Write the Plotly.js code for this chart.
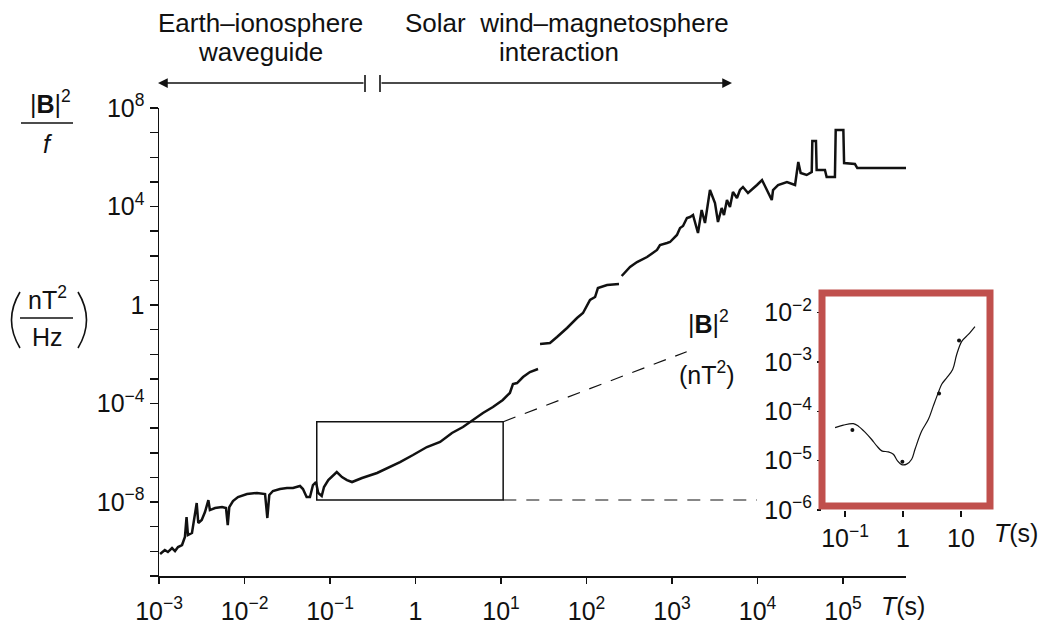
<!DOCTYPE html>
<html>
<head>
<meta charset="utf-8">
<script src="https://cdn.plot.ly/plotly-3.0.1.min.js"></script>
<style>html,body{margin:0;padding:0;background:#fff;}#chart{width:1040px;height:627px;}</style>
</head>
<body>
<div id="chart"></div>
<script>
// ---------- data ----------
// Main spectrum |B|^2/f (nT^2/Hz) vs period T (s), three drawn segments
const periodA = [1.03e-3,1.17e-3,1.27e-3,1.42e-3,1.54e-3,1.67e-3,1.86e-3,2.01e-3,2.10e-3,2.18e-3,2.43e-3,2.64e-3,2.76e-3,2.88e-3,3.16e-3,3.45e-3,3.78e-3,3.94e-3,4.52e-3,5.46e-3,6.08e-3,6.37e-3,6.64e-3,7.33e-3,8.39e-3,1.07e-2,1.40e-2,1.74e-2,1.85e-2,1.95e-2,2.15e-2,2.60e-2,3.14e-2,3.69e-2,4.46e-2,4.83e-2,5.33e-2,5.83e-2,6.32e-2,6.85e-2,7.29e-2,8.00e-2,8.51e-2,9.55e-2,0.105,0.120,0.138,0.158,0.181,0.237,0.355,0.504,0.659,0.935,1.36,1.94,2.67,3.59,4.71,6.15,8.05,10.5,12.7,13.8,15.4,18.1,21.8,27.1];
const powerA  = [7.80e-11,1.13e-10,9.40e-11,1.37e-10,1.03e-10,1.50e-10,1.81e-10,3.82e-10,2.48e-9,4.60e-10,5.56e-10,3.61e-9,9.18e-9,1.42e-9,1.87e-9,3.95e-9,1.21e-8,4.76e-9,5.75e-9,6.31e-9,5.75e-9,1.17e-9,6.31e-9,1.11e-8,1.61e-8,2.13e-8,2.34e-8,2.13e-8,2.26e-9,1.94e-8,2.82e-8,3.40e-8,3.73e-8,3.73e-8,4.50e-8,3.40e-8,1.61e-8,1.61e-8,4.93e-8,6.53e-8,2.34e-8,1.77e-8,4.09e-8,7.87e-8,1.04e-7,1.66e-7,1.04e-7,7.87e-8,6.53e-8,9.51e-8,1.52e-7,2.65e-7,4.24e-7,8.15e-7,1.72e-6,2.75e-6,6.38e-6,1.12e-5,2.15e-5,4.14e-5,7.24e-5,1.40e-4,2.69e-4,6.22e-4,6.84e-4,1.20e-3,1.91e-3,2.53e-3];
const periodB = [28.6,37.4,45.2,59.2,77.4,91.0,110,126,136,174,240];
const powerB  = [2.62e-2,2.88e-2,5.04e-2,0.117,0.298,0.475,1.60,2.12,4.92,6.52,7.15];
const periodC = [258,298,323,390,511,668,724,875,948,1143,1242,1346,1496,1626,1762,2014,2223,2432,2780,3184,3451,3811,4055,4395,4764,5164,5754,6237,6761,7745,8851,9863,1.13e4,1.29e4,1.47e4,1.52e4,1.74e4,2.21e4,2.75e4,3.00e4,3.20e4,3.76e4,4.31e4,4.38e4,4.83e4,4.92e4,6.15e4,6.44e4,8.05e4,8.22e4,1.01e5,1.03e5,1.38e5,1.47e5,5.46e5];
const powerC  = [15.1,26.5,35.0,55.8,89.1,172,274,330,362,698,1343,1618,3420,3758,4529,841,7228,2143,4.69e4,1.39e4,2350,8710,4529,1.84e4,9572,3.89e4,2.22e4,4.69e4,6.21e4,3.54e4,5.65e4,7.48e4,1.19e5,4.69e4,1.84e4,4.69e4,7.48e4,9.91e4,7.48e4,6.43e5,2.30e5,1.91e5,2.52e5,4.57e6,4.57e6,3.04e5,3.04e5,1.58e5,1.58e5,1.28e7,1.28e7,5.85e5,5.32e5,3.66e5,3.66e5];

// Inset |B|^2 (nT^2) vs T (s)
const insetPeriod = [0.0673,0.0935,0.139,0.170,0.221,0.288,0.352,0.430,0.558,0.681,0.798,0.948,1.156,1.41,1.61,2.10,2.74,3.33,4.06,4.65,5.66,7.18,8.41,10.3,13.4,17.4];
const insetPower  = [4.68e-5,5.25e-5,5.62e-5,5.01e-5,3.80e-5,2.69e-5,2.00e-5,1.58e-5,1.51e-5,1.35e-5,1.00e-5,8.3e-6,8.5e-6,1.07e-5,1.70e-5,3.98e-5,6.9e-5,1.29e-4,2.40e-4,3.55e-4,4.79e-4,7.08e-4,1.41e-3,2.63e-3,3.63e-3,5.25e-3];
const insetDotPeriod = [0.134,0.975,4.18,9.25];
const insetDotPower  = [4.17e-5,9.5e-6,2.29e-4,2.75e-3];

// Zoom box drawn on the main spectrum (period and power limits)
const boxPeriod = [0.07, 10.6];
const boxPower  = [1.22e-8, 1.83e-5];

// Tick values / labels
const mainXTicks = [1e-3,1e-2,1e-1,1,10,100,1e3,1e4,1e5];
const mainXLabels = ['10<sup>−3</sup>','10<sup>−2</sup>','10<sup>−1</sup>','1','10<sup>1</sup>','10<sup>2</sup>','10<sup>3</sup>','10<sup>4</sup>','10<sup>5</sup>'];
const mainYTicks = [1e-11,1e-10,1e-9,1e-8,1e-7,1e-6,1e-5,1e-4,1e-3,1e-2,1e-1,1,10,100,1e3,1e4,1e5,1e6,1e7,1e8];
const mainYLabels = ['','','','10<sup>−8</sup>','','','','10<sup>−4</sup>','','','','1','','','','10<sup>4</sup>','','','','10<sup>8</sup>'];
const insetXTicks = [0.1,1,10];
const insetXLabels = ['10<sup>−1</sup>','1','10'];
const insetYTicks = [1e-6,1e-5,1e-4,1e-3,1e-2];
const insetYLabels = ['10<sup>−6</sup>','10<sup>−5</sup>','10<sup>−4</sup>','10<sup>−3</sup>','10<sup>−2</sup>'];

// ---------- layout helpers (pixel -> paper, margins are zero) ----------
const W = 1040, H = 627;
const px = X => X / W;
const py = Y => 1 - Y / H;
const FONT = 'Liberation Sans, Arial, Helvetica, sans-serif';
const INK = '#111111';

const mainLine = {color: INK, width: 2.5};
const traces = [
  {x: periodA, y: powerA, type: 'scatter', mode: 'lines', line: mainLine, hoverinfo: 'skip'},
  {x: periodB, y: powerB, type: 'scatter', mode: 'lines', line: mainLine, hoverinfo: 'skip'},
  {x: periodC, y: powerC, type: 'scatter', mode: 'lines', line: mainLine, hoverinfo: 'skip'},
  {x: insetPeriod, y: insetPower, xaxis: 'x2', yaxis: 'y2', type: 'scatter', mode: 'lines',
   line: {color: INK, width: 1.2, shape: 'spline'}, hoverinfo: 'skip'},
  {x: insetDotPeriod, y: insetDotPower, xaxis: 'x2', yaxis: 'y2', type: 'scatter', mode: 'markers',
   marker: {color: INK, size: 4}, hoverinfo: 'skip'}
];

const tickFont = {family: FONT, size: 25, color: INK};

function label(text, X, Y, size) {
  return {text: text, x: px(X), y: py(Y), xref: 'paper', yref: 'paper', showarrow: false,
          xanchor: 'center', yanchor: 'middle', font: {family: FONT, size: size || 25, color: INK}};
}

const layout = {
  width: W, height: H,
  margin: {l: 0, r: 0, t: 0, b: 0},
  paper_bgcolor: '#ffffff', plot_bgcolor: 'rgba(0,0,0,0)',
  showlegend: false,
  font: {family: FONT, size: 25, color: INK},
  xaxis: {
    type: 'log', range: [-3, 5.737], domain: [px(159), px(906)], anchor: 'y',
    tickmode: 'array', tickvals: mainXTicks, ticktext: mainXLabels,
    ticks: 'outside', ticklen: 6, tickwidth: 1.5, tickcolor: INK,
    showline: true, linecolor: INK, linewidth: 1.5,
    showgrid: false, zeroline: false, tickfont: tickFont, ticklabelstandoff: 6
  },
  yaxis: {
    type: 'log', range: [-11, 8], domain: [py(576), py(108)], anchor: 'x',
    tickmode: 'array', tickvals: mainYTicks, ticktext: mainYLabels,
    ticks: 'outside', ticklen: 8, tickwidth: 1.5, tickcolor: INK,
    showline: true, linecolor: INK, linewidth: 1.5,
    showgrid: false, zeroline: false, tickfont: tickFont
  },
  xaxis2: {
    type: 'log', range: [-1.397, 1.5], domain: [px(822), px(990)], anchor: 'y2',
    tickmode: 'array', tickvals: insetXTicks, ticktext: insetXLabels,
    ticks: 'outside', ticklen: 6, tickwidth: 1.5, tickcolor: INK,
    showline: false, showgrid: false, zeroline: false, tickfont: tickFont
  },
  yaxis2: {
    type: 'log', range: [-6, -1.6], domain: [py(510), py(293)], anchor: 'x2',
    tickmode: 'array', tickvals: insetYTicks, ticktext: insetYLabels,
    ticks: 'outside', ticklen: 4, tickwidth: 1.5, tickcolor: INK,
    showline: false, showgrid: false, zeroline: false, tickfont: tickFont
  },
  shapes: [
    // zoom box on the main spectrum (data coordinates)
    {type: 'rect', xref: 'x', yref: 'y', x0: boxPeriod[0], x1: boxPeriod[1], y0: boxPower[0], y1: boxPower[1],
     line: {color: INK, width: 1.5}},
    // dashed leader lines to the inset
    {type: 'line', xref: 'paper', yref: 'paper', x0: px(503.3), y0: py(421.7), x1: px(686.7), y1: py(351.7),
     line: {color: INK, width: 1.2, dash: '13px,10px'}},
    {type: 'line', xref: 'paper', yref: 'paper', x0: px(503.3), y0: py(500), x1: px(757), y1: py(500),
     line: {color: INK, width: 1.2, dash: '13px,10px'}},
    // inset frame
    {type: 'rect', xref: 'paper', yref: 'paper', x0: px(822), x1: px(990), y0: py(506), y1: py(293),
     line: {color: '#c0504d', width: 7}},
    // bars at the arrow break
    {type: 'line', xref: 'paper', yref: 'paper', x0: px(365), x1: px(365), y0: py(75), y1: py(92), line: {color: INK, width: 1.6}},
    {type: 'line', xref: 'paper', yref: 'paper', x0: px(380), x1: px(380), y0: py(75), y1: py(92), line: {color: INK, width: 1.6}},
    // fraction bars of the y-axis unit label
    {type: 'line', xref: 'paper', yref: 'paper', x0: px(21), x1: px(73), y0: py(123), y1: py(123), line: {color: INK, width: 1.6}},
    {type: 'line', xref: 'paper', yref: 'paper', x0: px(20), x1: px(73), y0: py(318), y1: py(318), line: {color: INK, width: 1.6}},
    // large parentheses
    {type: 'path', xref: 'paper', yref: 'paper',
     path: 'M' + px(20) + ',' + py(292) + ' Q' + px(3) + ',' + py(320) + ' ' + px(20) + ',' + py(348),
     line: {color: INK, width: 1.6}},
    {type: 'path', xref: 'paper', yref: 'paper',
     path: 'M' + px(78) + ',' + py(292) + ' Q' + px(95) + ',' + py(320) + ' ' + px(78) + ',' + py(348),
     line: {color: INK, width: 1.6}}
  ],
  annotations: [
    // region captions
    label('Earth–ionosphere', 260, 23, 26),
    label('waveguide', 260, 52, 26),
    label('Solar  wind–magnetosphere', 567, 23, 26),
    label('interaction', 559, 52, 26),
    // arrows
    {text: '', x: px(158), y: py(83), xref: 'paper', yref: 'paper', ax: 207, ay: 0, axref: 'pixel', ayref: 'pixel',
     showarrow: true, arrowhead: 2, arrowsize: 1.5, arrowwidth: 1.3, arrowcolor: INK, standoff: 0},
    {text: '', x: px(732), y: py(83), xref: 'paper', yref: 'paper', ax: -352, ay: 0, axref: 'pixel', ayref: 'pixel',
     showarrow: true, arrowhead: 2, arrowsize: 1.5, arrowwidth: 1.3, arrowcolor: INK, standoff: 0},
    // y unit label
    label('|<b>B</b>|<sup>2</sup>', 50, 102),
    label('<i>f</i>', 48, 144),
    label('nT<sup>2</sup>', 47, 298),
    label('Hz', 47, 337),
    // x axis labels
    label('<i>T</i>(s)', 903, 606),
    label('<i>T</i>(s)', 1016, 533),
    // inset quantity label
    label('|<b>B</b>|<sup>2</sup>', 708, 322),
    label('(nT<sup>2</sup>)', 707, 373)
  ]
};

Plotly.newPlot('chart', traces, layout, {staticPlot: true, displayModeBar: false});
</script>
</body>
</html>
